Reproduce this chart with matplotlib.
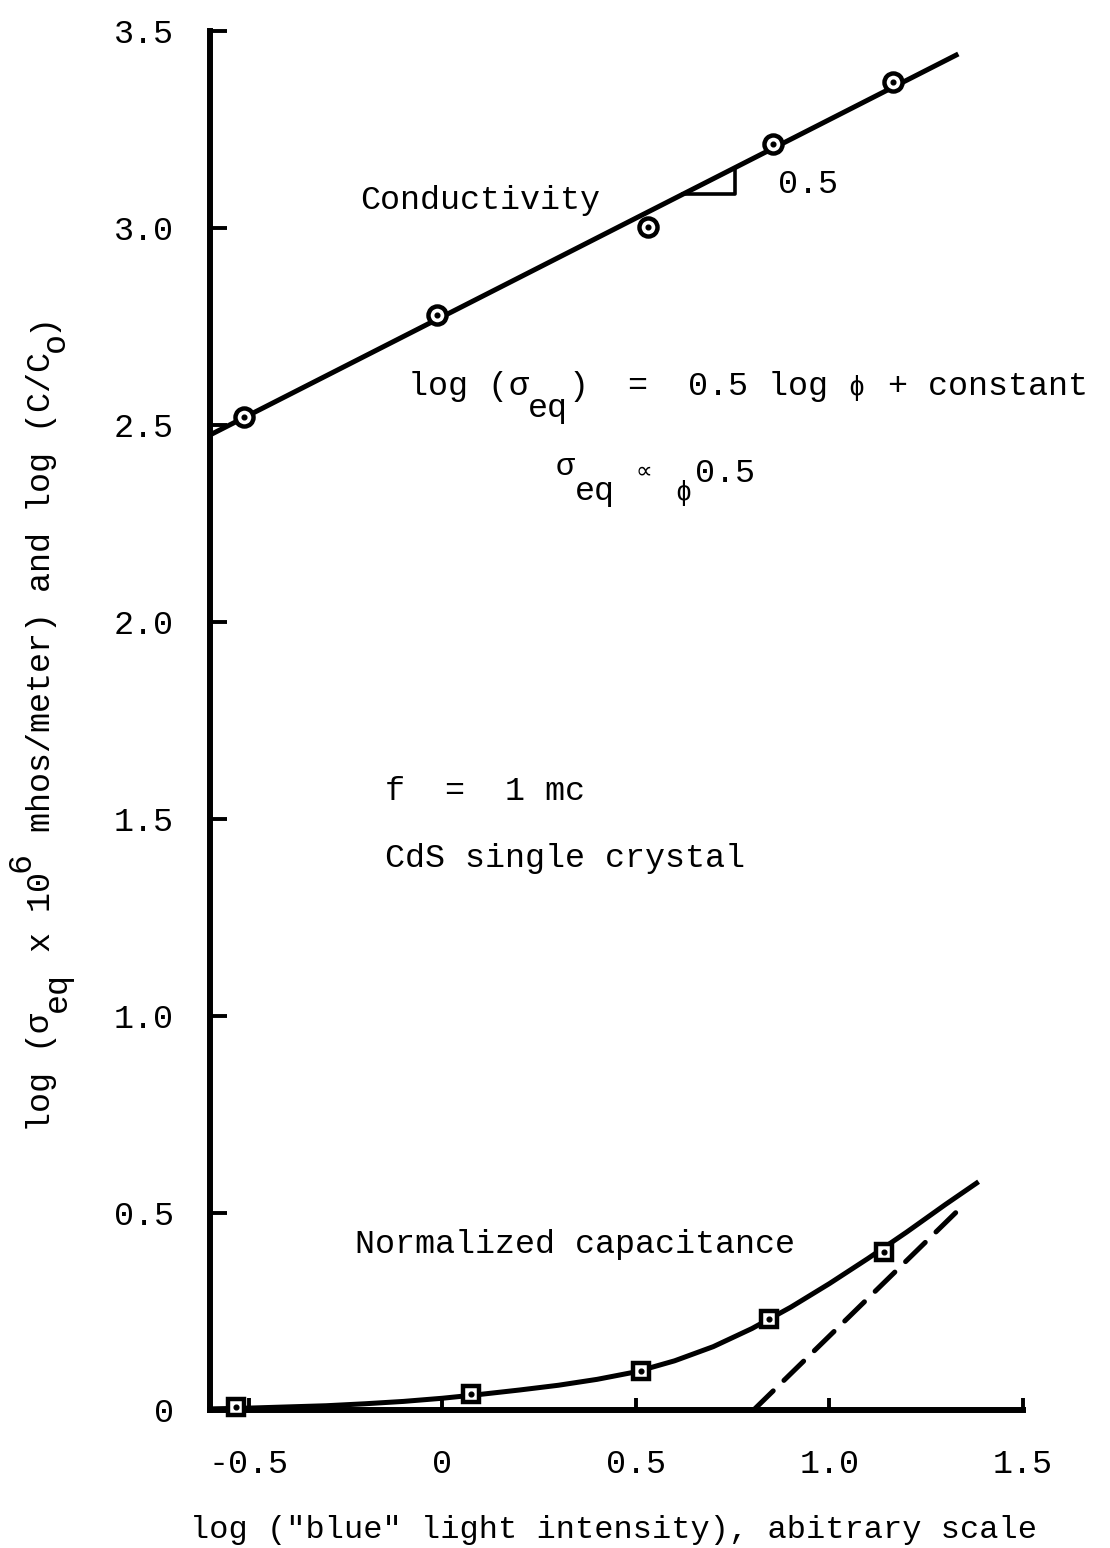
import numpy as np
import matplotlib
matplotlib.use('Agg')
import matplotlib.pyplot as plt
from matplotlib.transforms import offset_copy

MONO = 'Liberation Mono'
plt.rcParams['font.family'] = [MONO, 'DejaVu Sans']

# conductivity measurements (log sigma_eq) and the slope-0.5 fit line
cond_x = [-0.513, -0.014, 0.532, 0.853, 1.164]
cond_y = [2.521, 2.779, 3.002, 3.213, 3.370]
fit_x = [-0.6, 1.333]
fit_y = [2.475, 3.442]

# slope triangle on the fit line
tri_x = [0.623, 0.757, 0.757]
tri_y = [3.087, 3.087, 3.153]

# normalized capacitance log(C/Co)
cap_x = [-0.532, 0.074, 0.513, 0.845, 1.14]
cap_y = [0.008, 0.042, 0.100, 0.231, 0.402]
# hand-drawn curve through the capacitance points
curve_x = [-0.6, -0.5, -0.4, -0.3, -0.2, -0.1, 0.0, 0.1, 0.2, 0.3, 0.4, 0.5,
           0.6, 0.7, 0.8, 0.9, 1.0, 1.1, 1.2, 1.3, 1.38]
curve_y = [0.003, 0.005, 0.008, 0.011, 0.016, 0.022, 0.030, 0.040, 0.051,
           0.063, 0.078, 0.097, 0.125, 0.161, 0.207, 0.261, 0.321, 0.385,
           0.452, 0.522, 0.576]
# asymptote (dashed)
asym_x = [0.804, 1.346]
asym_y = [0.0, 0.52]

xticks = [-0.5, 0, 0.5, 1.0, 1.5]
xticklabels = ['-0.5', '0', '0.5', '1.0', '1.5']
yticks = [0, 0.5, 1.0, 1.5, 2.0, 2.5, 3.0, 3.5]
yticklabels = ['0', '0.5', '1.0', '1.5', '2.0', '2.5', '3.0', '3.5']

FS = 24
LW = 3.6
PX = 0.72  # points per pixel at dpi 100

fig = plt.figure(figsize=(11.10, 15.48), dpi=100)
ax = fig.add_axes([0.1892, 0.0891, 0.7324, 0.8908])


def typed(x, y, pieces, transform, rotation=0, size=FS):
    """Typewriter-style text: each piece is (text, raise_px, scale) and
    advances one monospace cell per character."""
    cell = 0.6 * size
    adv = 0.0
    for s, rise, scale in pieces:
        dy = rise * PX
        if rotation == 90:
            tr = offset_copy(transform, fig=fig, x=-dy, y=adv, units='points')
        else:
            tr = offset_copy(transform, fig=fig, x=adv, y=dy, units='points')
        fig.text(x, y, s, transform=tr, fontsize=size * scale,
                 rotation=rotation, rotation_mode='anchor',
                 ha='left', va='baseline')
        adv += len(s) * cell


ax.plot(fit_x, fit_y, color='black', lw=LW, solid_capstyle='butt', clip_on=False)
ax.plot(tri_x, tri_y, color='black', lw=2.6, clip_on=False)
ax.plot(curve_x, curve_y, color='black', lw=LW, solid_joinstyle='round',
        clip_on=False)
ax.plot(asym_x, asym_y, color='black', lw=LW, ls=(0, (5.5, 3)),
        dash_capstyle='round', clip_on=False)

ax.plot(cond_x, cond_y, ls='none', marker='o', ms=13, mfc='white',
        mec='black', mew=3.2, clip_on=False, zorder=5)
ax.plot(cond_x, cond_y, ls='none', marker='o', ms=3.4, mfc='black',
        mec='black', clip_on=False, zorder=6)
ax.plot(cap_x, cap_y, ls='none', marker='s', ms=11.5, mfc='white',
        mec='black', mew=3.2, clip_on=False, zorder=5)
ax.plot(cap_x, cap_y, ls='none', marker='o', ms=3.4, mfc='black',
        mec='black', clip_on=False, zorder=6)

ax.set_xlim(-0.6, 1.5)
ax.set_ylim(0, 3.5)
for side in ['top', 'right']:
    ax.spines[side].set_visible(False)
for side in ['left', 'bottom']:
    ax.spines[side].set_linewidth(4.3)
    ax.spines[side].set_capstyle('projecting')

ax.set_xticks(xticks)
ax.set_xticklabels(xticklabels, fontsize=FS)
ax.set_yticks(yticks)
ax.set_yticklabels(yticklabels, fontsize=FS)
ax.tick_params(axis='x', direction='in', length=9, width=2.8, pad=28)
ax.tick_params(axis='y', direction='in', length=12, width=2.8, pad=26)

ax.text(-0.212, 3.07, 'Conductivity', fontsize=FS, va='center', ha='left')
ax.text(0.868, 3.11, '0.5', fontsize=FS, va='center', ha='left')

# log(sigma_eq) = 0.5 log phi + constant
typed(-0.088, 2.576,
      [('log (', 0, 1.0), ('σ', 0, 1.0), ('eq', -22, 1.0), (')', 0, 1.0),
       ('  =  0.5 log ', 0, 1.0), ('ϕ', 0, 0.8), (' + constant', 0, 1.0)],
      ax.transData)
# sigma_eq proportional to phi^0.5
typed(0.292, 2.31,
      [('σ', 25, 0.95), ('eq', 0, 1.0), (' ', 0, 1.0), ('∝', 22, 0.7),
       (' ', 0, 1.0), ('ϕ', 0, 0.8), ('0.5', 18, 1.0)],
      ax.transData)

ax.text(-0.147, 1.569, 'f  =  1 mc', fontsize=FS, va='center', ha='left')
ax.text(-0.147, 1.40, 'CdS single crystal', fontsize=FS, va='center', ha='left')
ax.text(-0.225, 0.419, 'Normalized capacitance', fontsize=FS,
        va='center', ha='left')

fig.text(0.5527, 0.0065, 'log ("blue" light intensity), abitrary scale',
         fontsize=23, ha='center', va='baseline')

# rotated y label, typed from the bottom up
typed(0.045, 1 - 1132 / 1548,
      [('log (', 0, 1.0), ('σ', 2, 1.0), ('eq', -16, 1.0), (' x 10', 0, 1.0),
       ('6', 20, 1.0), (' mhos/meter) and log (C/C', 0, 1.0), ('o', -14, 1.0),
       (')', 0, 1.0)],
      fig.transFigure, rotation=90)

fig.savefig('out.png', dpi=100)
